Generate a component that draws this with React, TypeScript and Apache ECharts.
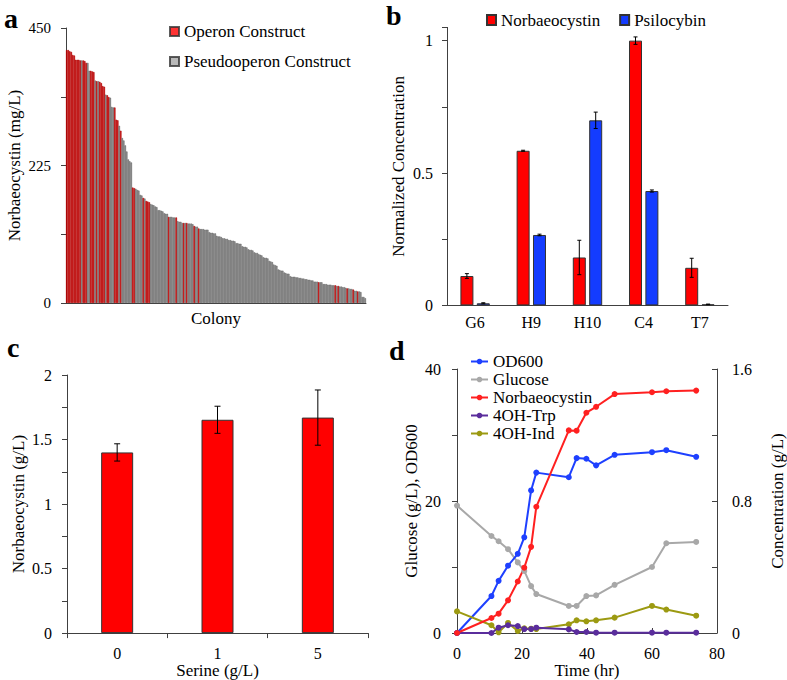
import { useEffect, useRef } from 'react';
import * as echarts from 'echarts';

const FONT = 'Liberation Serif, serif';

// ---------- Panel a: colony screen (mg/L), sorted ----------
const colonyValues = [
  414, 414, 412, 411, 406, 405, 398, 398, 398, 397, 397, 397, 396, 393, 393,
  380, 380, 379, 378, 364, 363, 363, 362, 360, 355, 354, 341, 340, 337, 336,
  321, 320, 320, 300, 299, 290, 282, 270, 266, 258, 248, 235, 232, 230, 189,
  188, 187, 185, 184, 177, 176, 172, 171, 167, 166, 165, 162, 161, 160, 158,
  157, 152, 152, 151, 150, 147, 146, 146, 141, 141, 141, 140, 140, 140, 134,
  133, 133, 131, 131, 131, 131, 130, 130, 130, 129, 126, 125, 125, 122, 121,
  121, 121, 120, 120, 120, 116, 115, 115, 114, 114, 110, 109, 109, 108, 106,
  106, 105, 105, 103, 103, 102, 102, 101, 98, 98, 97, 97, 93, 92, 92,
  91, 88, 87, 87, 86, 83, 82, 82, 80, 79, 78, 75, 74, 74, 73,
  69, 68, 67, 63, 62, 61, 55, 54, 53, 53, 50, 49, 48, 48, 44,
  43, 43, 43, 42, 42, 41, 41, 40, 40, 39, 39, 38, 38, 37, 37,
  35, 35, 35, 34, 34, 34, 31, 31, 31, 30, 30, 30, 29, 29, 29,
  28, 28, 27, 27, 26, 26, 25, 24, 24, 23, 23, 22, 20, 20, 19,
  19, 18, 10, 10, 8,
];
const operonColonies = [
  0, 1, 2, 3, 4, 5, 6, 7, 8, 9, 11, 12, 13, 16, 17, 18, 20, 22, 23, 24, 25,
  27, 28, 32, 33, 34, 36, 44, 45, 51, 53, 54, 55, 68, 73, 78, 80, 85, 88,
  168, 179, 181, 187, 191, 194,
];
const colonyTicks = [0, 225, 450];

// ---------- Panel b: strains, normalized ----------
const strainCategories = ['G6', 'H9', 'H10', 'C4', 'T7'];
const norbNormalized = [0.111, 0.584, 0.181, 1.0, 0.142];
const norbNormalizedErr = [0.009, 0.002, 0.065, 0.014, 0.036];
const psilNormalized = [0.008, 0.266, 0.699, 0.432, 0.004];
const psilNormalizedErr = [0.002, 0.003, 0.031, 0.004, 0.001];
const normTicks = [0, 0.5, 1];

// ---------- Panel c: serine supplementation ----------
const serineCategories = ['0', '1', '5'];
const serineNorb = [1.4, 1.653, 1.67];
const serineNorbErr = [0.067, 0.105, 0.214];
const serineTicks = [0, 0.5, 1, 1.5, 2];

// ---------- Panel d: fermentation time course ----------
const timeHr = [0, 10.6, 12.8, 15.7, 18.7, 20.7, 22.8, 24.4, 34.4, 36.8, 39.8, 42.8, 48.5, 60.0, 64.4, 73.6];
const od600 = [0, 5.6, 7.9, 10.2, 12.0, 14.5, 21.6, 24.3, 23.6, 26.5, 26.4, 25.4, 27.0, 27.4, 27.7, 26.7];
const glucose = [19.3, 14.7, 13.9, 12.7, 10.7, 9.4, 7.1, 5.9, 4.1, 4.1, 5.6, 5.7, 7.3, 10.0, 13.6, 13.8];
const norbTime = [0, 0.091, 0.117, 0.198, 0.312, 0.396, 0.522, 0.765, 1.228, 1.226, 1.335, 1.371, 1.448, 1.459, 1.465, 1.469];
const ohTrp = [0, 0, 0.032, 0.047, 0.042, 0.024, 0.024, 0.032, 0.022, 0.006, 0.006, 0.002, 0.002, 0.002, 0.002, 0.002];
const ohInd = [0.131, 0.047, 0.004, 0.061, 0.012, 0.028, 0.026, 0.024, 0.053, 0.077, 0.071, 0.077, 0.093, 0.164, 0.142, 0.105];
const leftTicks = [0, 20, 40];
const rightTicks = [0, 0.8, 1.6];

const AXIS_COLOR = '#404040';
const RED = '#ff0000';
const BLUE = '#143cff';

const near = (v: number, list: number[]) => list.some((t) => Math.abs(t - v) < 1e-6);

function errorBars(xi: number, yi: number, vals: number[], errs: number[], offset: number, cap: number) {
  return {
    type: 'custom',
    xAxisIndex: xi,
    yAxisIndex: yi,
    z: 10,
    silent: true,
    data: vals.map((v, i) => [i, v - errs[i], v + errs[i]]),
    encode: { x: 0, y: [1, 2] },
    renderItem: (_p: any, api: any) => {
      const i = api.value(0);
      const lo = api.coord([i, api.value(1)]);
      const hi = api.coord([i, api.value(2)]);
      const x = lo[0] + offset;
      const st = { stroke: '#000', lineWidth: 1 };
      return {
        type: 'group',
        children: [
          { type: 'line', shape: { x1: x, y1: lo[1], x2: x, y2: hi[1] }, style: st },
          { type: 'line', shape: { x1: x - cap, y1: lo[1], x2: x + cap, y2: lo[1] }, style: st },
          { type: 'line', shape: { x1: x - cap, y1: hi[1], x2: x + cap, y2: hi[1] }, style: st },
        ],
      };
    },
  };
}

function valueAxisBase() {
  return {
    type: 'value',
    splitLine: { show: false },
    axisLine: { show: true, lineStyle: { color: AXIS_COLOR, width: 1 } },
    axisTick: { show: true, length: 5, lineStyle: { color: AXIS_COLOR } },
    axisLabel: { color: '#000', fontFamily: FONT, fontSize: 16 },
    nameTextStyle: { color: '#000', fontFamily: FONT, fontSize: 17 },
    nameLocation: 'middle',
  };
}

function buildOption() {
  const operonSet = new Set(operonColonies);
  const colonyCats = colonyValues.map((_, i) => String(i + 1));
  const lineSeries = (name: string, data: number[], color: string, yAxisIndex: number) => ({
    type: 'line',
    name,
    xAxisIndex: 3,
    yAxisIndex,
    data: timeHr.map((t, i) => [t, data[i]]),
    symbol: 'circle',
    symbolSize: 6,
    lineStyle: { color, width: 2 },
    itemStyle: { color },
  });
  const legendOnly = (name: string, color: string) => ({
    type: 'scatter',
    name,
    xAxisIndex: 0,
    yAxisIndex: 0,
    data: [],
    itemStyle: { color, borderColor: '#333', borderWidth: 1 },
  });

  return {
    animation: false,
    backgroundColor: '#ffffff',
    textStyle: { fontFamily: FONT, color: '#000' },
    grid: [
      { left: 66, top: 28, width: 300, height: 275 },
      { left: 447, top: 27.4, width: 281, height: 278 },
      { left: 67, top: 375, width: 301, height: 259 },
      { left: 457, top: 369, width: 271, height: 264 },
    ],
    xAxis: [
      {
        type: 'category',
        gridIndex: 0,
        data: colonyCats,
        axisLine: { lineStyle: { color: AXIS_COLOR } },
        axisTick: { show: false },
        axisLabel: { show: false },
        name: 'Colony',
        nameLocation: 'middle',
        nameGap: 7,
        nameTextStyle: { color: '#000', fontFamily: FONT, fontSize: 17 },
      },
      {
        type: 'category',
        gridIndex: 1,
        data: strainCategories,
        axisLine: { lineStyle: { color: AXIS_COLOR } },
        axisTick: { show: false },
        axisLabel: { color: '#000', fontFamily: FONT, fontSize: 16, margin: 9 },
      },
      {
        type: 'category',
        gridIndex: 2,
        data: serineCategories,
        axisLine: { lineStyle: { color: AXIS_COLOR } },
        axisTick: { show: true, length: 5, lineStyle: { color: AXIS_COLOR } },
        axisLabel: { color: '#000', fontFamily: FONT, fontSize: 16, margin: 12 },
        name: 'Serine (g/L)',
        nameLocation: 'middle',
        nameGap: 26,
        nameTextStyle: { color: '#000', fontFamily: FONT, fontSize: 17 },
      },
      {
        ...valueAxisBase(),
        gridIndex: 3,
        min: 0,
        max: 80,
        interval: 20,
        axisTick: { show: true, inside: true, length: 5, lineStyle: { color: AXIS_COLOR } },
        axisLabel: { color: '#000', fontFamily: FONT, fontSize: 16, margin: 12 },
        name: 'Time (hr)',
        nameGap: 29,
      },
    ],
    yAxis: [
      {
        ...valueAxisBase(),
        gridIndex: 0,
        min: 0,
        max: 450,
        interval: 112.5,
        axisLabel: {
          color: '#000', fontFamily: FONT, fontSize: 15, margin: 15,
          formatter: (v: number) => (near(v, colonyTicks) ? String(v) : ''),
        },
        name: 'Norbaeocystin (mg/L)',
        nameGap: 43,
      },
      {
        ...valueAxisBase(),
        gridIndex: 1,
        min: 0,
        max: 1.05,
        interval: 0.25,
        axisLabel: {
          color: '#000', fontFamily: FONT, fontSize: 16, margin: 14,
          formatter: (v: number) => (near(v, normTicks) ? String(v) : ''),
        },
        name: 'Normalized Concentration',
        nameGap: 40,
      },
      {
        ...valueAxisBase(),
        gridIndex: 2,
        min: 0,
        max: 2,
        interval: 0.25,
        axisLabel: {
          color: '#000', fontFamily: FONT, fontSize: 16, margin: 15,
          formatter: (v: number) => (near(v, serineTicks) ? String(v) : ''),
        },
        name: 'Norbaeocystin (g/L)',
        nameGap: 40,
      },
      {
        ...valueAxisBase(),
        gridIndex: 3,
        min: 0,
        max: 40,
        interval: 10,
        axisLabel: {
          color: '#000', fontFamily: FONT, fontSize: 16, margin: 16,
          formatter: (v: number) => (near(v, leftTicks) ? String(v) : ''),
        },
        name: 'Glucose (g/L), OD600',
        nameGap: 37,
      },
      {
        ...valueAxisBase(),
        gridIndex: 3,
        position: 'right',
        min: 0,
        max: 1.6,
        interval: 0.4,
        axisTick: { show: true, inside: true, length: 5, lineStyle: { color: AXIS_COLOR } },
        axisLabel: {
          color: '#000', fontFamily: FONT, fontSize: 16, margin: 15,
          formatter: (v: number) => (near(v, rightTicks) ? String(Math.round(v * 10) / 10) : ''),
        },
        name: 'Concentration (g/L)',
        nameRotate: 90,
        nameGap: 52,
      },
    ],
    legend: [
      {
        data: ['Operon Construct', 'Pseudooperon Construct'],
        orient: 'vertical',
        left: 169,
        top: 23,
        padding: 0,
        icon: 'rect',
        itemWidth: 9,
        itemHeight: 9,
        itemGap: 13,
        selectedMode: false,
        textStyle: { fontFamily: FONT, fontSize: 17, color: '#000', lineHeight: 17 },
      },
      {
        data: ['Norbaeocystin', 'Psilocybin'],
        orient: 'horizontal',
        left: 486,
        top: 11.5,
        padding: 0,
        icon: 'rect',
        itemWidth: 9,
        itemHeight: 10,
        itemGap: 19,
        selectedMode: false,
        textStyle: { fontFamily: FONT, fontSize: 17, color: '#000', lineHeight: 17 },
      },
      {
        data: ['OD600', 'Glucose', 'd:Norbaeocystin', '4OH-Trp', '4OH-Ind'],
        orient: 'vertical',
        left: 470,
        top: 353,
        padding: 0,
        itemWidth: 17,
        itemHeight: 7,
        itemGap: 1,
        selectedMode: false,
        formatter: (n: string) => n.replace('d:', ''),
        textStyle: { fontFamily: FONT, fontSize: 17, color: '#000', lineHeight: 17 },
      },
    ],
    graphic: [
      { type: 'text', left: 4, top: 4, style: { text: 'a', font: `bold 28px ${FONT}`, fill: '#000' } },
      { type: 'text', left: 386, top: 1, style: { text: 'b', font: `bold 28px ${FONT}`, fill: '#000' } },
      { type: 'text', left: 7, top: 333, style: { text: 'c', font: `bold 28px ${FONT}`, fill: '#000' } },
      { type: 'text', left: 389, top: 336, style: { text: 'd', font: `bold 28px ${FONT}`, fill: '#000' } },
    ],
    series: [
      {
        type: 'bar',
        name: 'Colony screen',
        xAxisIndex: 0,
        yAxisIndex: 0,
        barCategoryGap: '0%',
        data: colonyValues.map((v, i) => ({
          value: v,
          itemStyle: operonSet.has(i)
            ? { color: '#e00000', borderColor: '#a80000', borderWidth: 0.6 }
            : { color: '#999999', borderColor: '#626262', borderWidth: 0.6 },
        })),
      },
      legendOnly('Operon Construct', RED),
      legendOnly('Pseudooperon Construct', '#a6a6a6'),
      {
        type: 'bar',
        name: 'Norbaeocystin',
        xAxisIndex: 1,
        yAxisIndex: 1,
        data: norbNormalized,
        barWidth: 13,
        barGap: '26%',
        itemStyle: { color: RED, borderColor: '#333', borderWidth: 1 },
      },
      {
        type: 'bar',
        name: 'Psilocybin',
        xAxisIndex: 1,
        yAxisIndex: 1,
        data: psilNormalized,
        barWidth: 13,
        barGap: '26%',
        itemStyle: { color: BLUE, borderColor: '#333', borderWidth: 1 },
      },
      errorBars(1, 1, norbNormalized, norbNormalizedErr, -8.2, 2),
      errorBars(1, 1, psilNormalized, psilNormalizedErr, 8.2, 2),
      {
        type: 'bar',
        name: 'c:Norbaeocystin',
        xAxisIndex: 2,
        yAxisIndex: 2,
        data: serineNorb,
        barWidth: 32,
        itemStyle: { color: RED, borderColor: '#333', borderWidth: 1 },
      },
      errorBars(2, 2, serineNorb, serineNorbErr, 0, 3),
      lineSeries('Glucose', glucose, '#a8a8a8', 3),
      lineSeries('OD600', od600, '#1e40ff', 3),
      lineSeries('4OH-Ind', ohInd, '#9c9a12', 4),
      lineSeries('4OH-Trp', ohTrp, '#5a2d9c', 4),
      lineSeries('d:Norbaeocystin', norbTime, '#ff2020', 4),
    ],
  };
}

export default function App() {
  const ref = useRef<HTMLDivElement>(null);
  useEffect(() => {
    if (!ref.current) return;
    const chart = echarts.init(ref.current, null, { renderer: 'svg' });
    chart.setOption(buildOption() as any);
    return () => chart.dispose();
  }, []);
  return (
    <div
      ref={ref}
      style={{ position: 'absolute', left: 0, top: 0, width: 787, height: 680, background: '#fff' }}
    />
  );
}
